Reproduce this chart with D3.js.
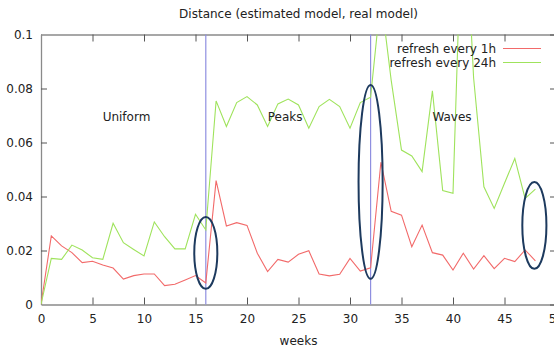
<!DOCTYPE html>
<html>
<head>
<meta charset="utf-8">
<script src="https://cdn.jsdelivr.net/npm/d3@7"></script>
<style>
  body { margin: 0; background: #fff; }
  svg { display: block; font-family: "DejaVu Sans", Verdana, sans-serif; }
</style>
</head>
<body>
<svg id="chart" width="554" height="350"></svg>
<script>
// data
const weeks = d3.range(0, 49);
const refresh1h = [
  0, 0.0254, 0.0217, 0.0192, 0.0155, 0.016, 0.0146, 0.0135, 0.0094, 0.0107,
  0.0113, 0.0113, 0.007, 0.0075, 0.0091, 0.0107, 0.008, 0.0459, 0.0291, 0.0303,
  0.0293, 0.019, 0.0122, 0.0167, 0.0157, 0.0186, 0.0199, 0.0113, 0.0106, 0.0112,
  0.0171, 0.0124, 0.0136, 0.0527, 0.0345, 0.0331, 0.0214, 0.0294, 0.0192, 0.0183,
  0.0128, 0.019, 0.0131, 0.0181, 0.0133, 0.0171, 0.0159, 0.0202, 0.0162,
];
const refresh24h = [
  0, 0.0171, 0.0167, 0.022, 0.0202, 0.0173, 0.0167, 0.0301, 0.0229, 0.0204,
  0.018, 0.0306, 0.0251, 0.0206, 0.0206, 0.0334, 0.0276, 0.0754, 0.0659, 0.0748,
  0.077, 0.0739, 0.0659, 0.0743, 0.0761, 0.0739, 0.0653, 0.0733, 0.076, 0.0733,
  0.0653, 0.0748, 0.0768, 0.114, 0.083, 0.0572, 0.055, 0.0492, 0.0791, 0.0422,
  0.0412, 0.161, 0.084, 0.0436, 0.0356, 0.0449, 0.0541, 0.0393, 0.0427,
];
const seriesNames = ['refresh every 1h', 'refresh every 24h'];
const xTicks = d3.range(0, 51, 5);
const yTicks = [0, 0.02, 0.04, 0.06, 0.08, 0.1];
const phaseLines = [16, 32];
const phaseLabels = [
  { text: 'Uniform', week: 8.3, value: 0.0694 },
  { text: 'Peaks', week: 23.7, value: 0.0694 },
  { text: 'Waves', week: 39.9, value: 0.0694 },
];
// ellipses: centre (week, value), radii (weeks, value)
const marks = [
  { week: 16, value: 0.0191, rw: 1.12, rv: 0.0133 },
  { week: 32, value: 0.0454, rw: 1.17, rv: 0.0359 },
  { week: 47.9, value: 0.0293, rw: 1.17, rv: 0.0161 },
];

const colors = ['#f26a6a', '#9fe35c'];
const mLeft = 41, mRight = 556, mTop = 34.5, mBottom = 304.5;

const svg = d3.select('#chart');
const x = d3.scaleLinear().domain([0, 50]).range([mLeft, mRight]);
const y = d3.scaleLinear().domain([0, 0.1]).range([mBottom, mTop]);

svg.append('defs').append('clipPath').attr('id', 'plot')
  .append('rect')
  .attr('x', mLeft).attr('y', mTop)
  .attr('width', mRight - mLeft).attr('height', mBottom - mTop);

// frame + inward ticks on all sides
const frameColor = '#8a8a8a';
const tickFmt = (d) => (d === 0 ? '0' : d3.format('~g')(d));

const axB = svg.append('g').attr('transform', `translate(0,${mBottom})`)
  .call(d3.axisBottom(x).tickValues(xTicks).tickSizeInner(-7).tickSizeOuter(0).tickPadding(8));
const axT = svg.append('g').attr('transform', `translate(0,${mTop})`)
  .call(d3.axisTop(x).tickValues(xTicks).tickSizeInner(-7).tickSizeOuter(0).tickFormat(''));
const axL = svg.append('g').attr('transform', `translate(${mLeft},0)`)
  .call(d3.axisLeft(y).tickValues(yTicks).tickSizeInner(-6).tickSizeOuter(0).tickPadding(8).tickFormat(tickFmt));
const axR = svg.append('g').attr('transform', `translate(${mRight},0)`)
  .call(d3.axisRight(y).tickValues(yTicks).tickSizeInner(-6).tickSizeOuter(0).tickFormat(''));

[axB, axT, axL, axR].forEach((g) => {
  g.select('.domain').attr('stroke', frameColor).attr('stroke-width', 1.3);
  g.selectAll('.tick line').attr('stroke', '#555');
  g.selectAll('.tick text').attr('fill', '#222').style('font-size', '12px')
    .style('font-family', '"DejaVu Sans", Verdana, sans-serif');
});
axB.selectAll('.tick text').attr('dy', '0.9em');
axL.selectAll('.tick').filter((d) => d === 0 || d === 0.1).select('line').remove();
axB.selectAll('.tick').filter((d) => d === 0).select('line').remove();

// phase separators
svg.append('g').selectAll('line').data(phaseLines).join('line')
  .attr('x1', (d) => x(d)).attr('x2', (d) => x(d))
  .attr('y1', mTop).attr('y2', mBottom)
  .attr('stroke', '#8f8fe0').attr('stroke-width', 1.2);

// series
const line = d3.line().x((d, i) => x(weeks[i])).y((d) => y(d));
svg.append('g').attr('clip-path', 'url(#plot)')
  .selectAll('path').data([refresh1h, refresh24h]).join('path')
  .attr('d', line)
  .attr('fill', 'none')
  .attr('stroke', (_, i) => colors[i])
  .attr('stroke-width', 1.1);

// phase labels
svg.append('g').selectAll('text').data(phaseLabels).join('text')
  .attr('x', (d) => x(d.week)).attr('y', (d) => y(d.value))
  .attr('text-anchor', 'middle').attr('dy', '0.35em')
  .attr('fill', '#222').style('font-size', '12px')
  .text((d) => d.text);

// highlighted spots
svg.append('g').selectAll('ellipse').data(marks).join('ellipse')
  .attr('cx', (d) => x(d.week)).attr('cy', (d) => y(d.value))
  .attr('rx', (d) => x(d.rw) - x(0)).attr('ry', (d) => y(0) - y(d.rv))
  .attr('fill', 'none').attr('stroke', '#1d3a5e').attr('stroke-width', 2);

// legend
const legend = svg.append('g').selectAll('g').data(seriesNames).join('g')
  .attr('transform', (_, i) => `translate(496,${48.5 + i * 14})`);
legend.append('text')
  .attr('text-anchor', 'end').attr('dy', '0.35em')
  .attr('fill', '#222').style('font-size', '12px')
  .text((d) => d);
legend.append('line')
  .attr('x1', 7).attr('x2', 45)
  .attr('stroke', (_, i) => colors[i]).attr('stroke-width', 1.1);

// titles
svg.append('text')
  .attr('x', (mLeft + mRight) / 2).attr('y', 14).attr('dy', '0.35em')
  .attr('text-anchor', 'middle').attr('fill', '#222').style('font-size', '12px')
  .text('Distance (estimated model, real model)');
svg.append('text')
  .attr('x', (mLeft + mRight) / 2).attr('y', 341).attr('dy', '0.35em')
  .attr('text-anchor', 'middle').attr('fill', '#222').style('font-size', '12px')
  .text('weeks');
</script>
</body>
</html>
